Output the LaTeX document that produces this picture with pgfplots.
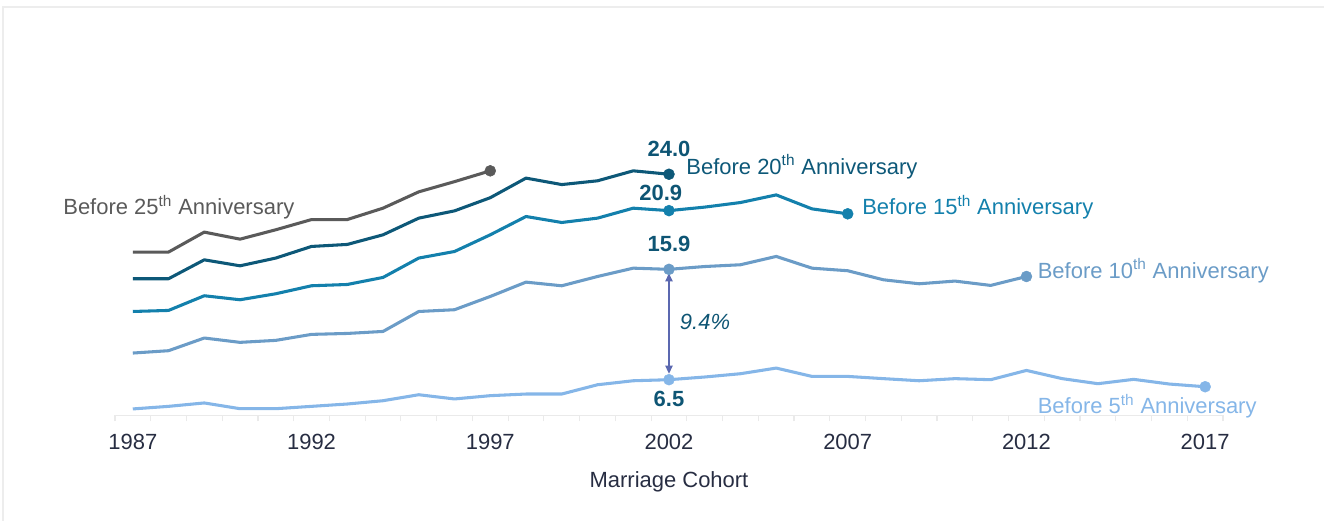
\documentclass[border=0pt]{standalone}
\usepackage{pgfplots}
\pgfplotsset{compat=1.18}
\usepackage{fontspec}
\setmainfont{Liberation Sans}
\usetikzlibrary{arrows.meta}

\definecolor{c25}{HTML}{5A5A5A}
\definecolor{c20}{HTML}{0D5878}
\definecolor{c15}{HTML}{1380AC}
\definecolor{c10}{HTML}{6B9CC7}
\definecolor{c5}{HTML}{85B6E8}
\definecolor{valc}{HTML}{0E5574}
\definecolor{arrc}{HTML}{5B68B0}
\definecolor{ticktext}{HTML}{272D42}
\definecolor{axisgray}{HTML}{EAEAEA}
\definecolor{framegray}{HTML}{EDEDED}

\newcommand{\lbl}{\fontsize{16.5}{19}\selectfont}

\begin{document}
\begin{tikzpicture}
\begin{axis}[
    scale only axis,
    width=831.75pt, height=306.5pt,
    xmin=1986.5, xmax=2017.5,
    ymin=3.46, ymax=38.24,
    axis x line*=bottom,
    hide y axis,
    axis line style={draw=axisgray, line width=1.2pt},
    xtick={1987,1992,...,2017},
    major tick length=0pt,
    tick align=outside,
    extra x ticks={1986.5,1987.5,...,2017.5},
    extra x tick labels={},
    extra x tick style={major tick length=4.5pt, tick style={draw=axisgray, line width=0.9pt}},
    xticklabel style={anchor=base, yshift=-25.5pt, text=ticktext, font=\lbl},
    /pgf/number format/1000 sep={},
    /pgf/number format/assume math mode=true,
    xlabel={Marriage Cohort},
    xlabel style={at={(axis description cs:0.5,0)}, anchor=base, yshift=-54.2pt, text=ticktext, font=\lbl},
    clip=false,
    every axis plot/.append style={line width=2.3pt, mark=*, mark size=4.1pt, line join=round},
]

% page frame
\path (axis cs:1983.285,-5.5) rectangle (axis cs:2020.33,38.84);
\draw[framegray, line width=1.2pt] (axis cs:1983.37,-5.5) -- (axis cs:1983.37,38.24) -- (axis cs:2020.33,38.24);

% before 5th
\addplot[color=c5, mark indices={16,31}, mark options={fill=c5, draw=c5, line width=0.4pt}] coordinates {
(1987,4.01) (1988,4.23) (1989,4.52) (1990,4.03) (1991,4.03) (1992,4.23) (1993,4.43)
(1994,4.71) (1995,5.22) (1996,4.86) (1997,5.14) (1998,5.28) (1999,5.28) (2000,6.07)
(2001,6.41) (2002,6.5) (2003,6.73) (2004,7.01) (2005,7.49) (2006,6.78) (2007,6.78)
(2008,6.59) (2009,6.41) (2010,6.59) (2011,6.5) (2012,7.29) (2013,6.59) (2014,6.16)
(2015,6.53) (2016,6.13) (2017,5.9)};

% before 10th
\addplot[color=c10, mark indices={16,26}, mark options={fill=c10, draw=c10, line width=0.4pt}] coordinates {
(1987,8.77) (1988,8.97) (1989,10.05) (1990,9.68) (1991,9.85) (1992,10.36) (1993,10.44)
(1994,10.61) (1995,12.31) (1996,12.46) (1997,13.59) (1998,14.81) (1999,14.5) (2000,15.29)
(2001,16.0) (2002,15.9) (2003,16.14) (2004,16.29) (2005,17.0) (2006,16.0) (2007,15.78)
(2008,15.01) (2009,14.67) (2010,14.9) (2011,14.53) (2012,15.29)};

% before 15th
\addplot[color=c15, mark indices={16,21}, mark options={fill=c15, draw=c15, line width=0.4pt}] coordinates {
(1987,12.31) (1988,12.4) (1989,13.65) (1990,13.31) (1991,13.82) (1992,14.5) (1993,14.61)
(1994,15.21) (1995,16.86) (1996,17.42) (1997,18.84) (1998,20.4) (1999,19.89) (2000,20.26)
(2001,21.11) (2002,20.9) (2003,21.2) (2004,21.59) (2005,22.24) (2006,21.05) (2007,20.63)};

% before 20th
\addplot[color=c20, mark indices={16}, mark options={fill=c20, draw=c20, line width=0.4pt}] coordinates {
(1987,15.1) (1988,15.1) (1989,16.71) (1990,16.2) (1991,16.86) (1992,17.85) (1993,18.02)
(1994,18.84) (1995,20.26) (1996,20.88) (1997,22.0) (1998,23.67) (1999,23.12) (2000,23.44)
(2001,24.29) (2002,24.0)};

% before 25th
\addplot[color=c25, mark indices={11}, mark options={fill=c25, draw=c25, line width=0.4pt}] coordinates {
(1987,17.37) (1988,17.37) (1989,19.07) (1990,18.47) (1991,19.27) (1992,20.14) (1993,20.14)
(1994,21.11) (1995,22.5) (1996,23.37) (1997,24.29)};

% gap arrow
\draw[arrc, line width=0.9pt, {Triangle[width=5.5pt,length=6pt]}-{Triangle[width=5.5pt,length=6pt]}, shorten <=3pt, shorten >=4.5pt]
  (axis cs:2002,15.9) -- (axis cs:2002,6.5);

% series labels
\node[anchor=base west, text=c25, font=\lbl, inner sep=0pt] at (axis cs:1985.05,20.54) {Before 25\textsuperscript{th} Anniversary};
\node[anchor=base west, text=c20, font=\lbl, inner sep=0pt] at (axis cs:2002.48,24.0) {Before 20\textsuperscript{th} Anniversary};
\node[anchor=base west, text=c15, font=\lbl, inner sep=0pt] at (axis cs:2007.40,20.54) {Before 15\textsuperscript{th} Anniversary};
\node[anchor=base west, text=c10, font=\lbl, inner sep=0pt] at (axis cs:2012.31,15.16) {Before 10\textsuperscript{th} Anniversary};
\node[anchor=base west, text=c5, font=\lbl, inner sep=0pt] at (axis cs:2012.31,3.58) {Before 5\textsuperscript{th} Anniversary};

% value labels
\node[anchor=base, text=valc, font=\lbl\bfseries, inner sep=0pt] at (axis cs:2002,25.5) {24.0};
\node[anchor=base, text=valc, font=\lbl\bfseries, inner sep=0pt] at (axis cs:2001.77,21.76) {20.9};
\node[anchor=base, text=valc, font=\lbl\bfseries, inner sep=0pt] at (axis cs:2002,17.42) {15.9};
\node[anchor=base, text=valc, font=\lbl\bfseries, inner sep=0pt] at (axis cs:2002,4.23) {6.5};
\node[anchor=base west, text=valc, font=\lbl\itshape, inner sep=0pt] at (axis cs:2002.30,10.81) {9.4\%};

\end{axis}
\end{tikzpicture}
\end{document}
